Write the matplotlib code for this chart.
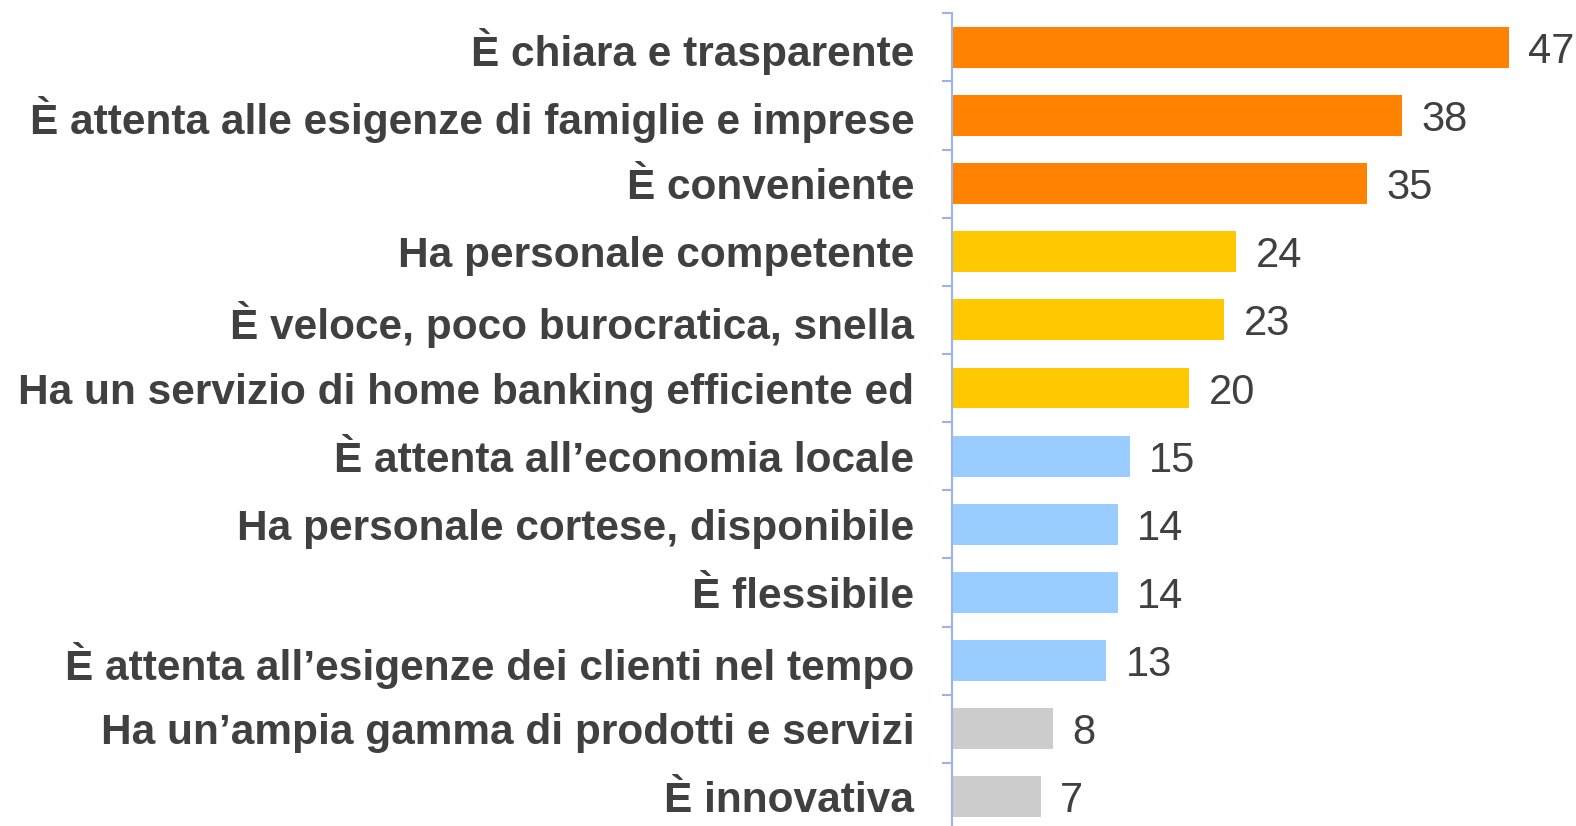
import matplotlib
matplotlib.use("Agg")
import matplotlib.pyplot as plt

# dati
categorie = [
    "È chiara e trasparente",
    "È attenta alle esigenze di famiglie e imprese",
    "È conveniente",
    "Ha personale competente",
    "È veloce, poco burocratica, snella",
    "Ha un servizio di home banking efficiente ed",
    "È attenta all’economia locale",
    "Ha personale cortese, disponibile",
    "È flessibile",
    "È attenta all’esigenze dei clienti nel tempo",
    "Ha un’ampia gamma di prodotti e servizi",
    "È innovativa",
]
valori = [47, 38, 35, 24, 23, 20, 15, 14, 14, 13, 8.5, 7.5]
etichette = ["47", "38", "35", "24", "23", "20", "15", "14", "14", "13", "8", "7"]
colori = ["#FF8300"] * 3 + ["#FFC800"] * 3 + ["#99CCFF"] * 4 + ["#CCCCCC"] * 2

plt.rcParams["font.family"] = ["Liberation Sans", "DejaVu Sans"]

fig = plt.figure(figsize=(15.76, 8.26), dpi=100, facecolor="white")
ax = fig.add_axes([0.604, -0.006, 0.376, 0.990])

y = list(range(len(categorie)))
ax.barh(y, valori, color=colori, height=0.6)
ax.set_ylim(len(categorie) - 0.5, -0.5)
ax.set_xlim(0, 50)

for yi, v, t in zip(y, valori, etichette):
    ax.annotate(t, (v, yi), xytext=(14, 0), textcoords="offset points",
                va="center_baseline", ha="left", fontsize=30, color="#404040")

ax.set_yticks(y)
ax.set_yticklabels(categorie, fontsize=30.5, fontweight="bold", color="#404040")
ax.set_yticks([i - 0.5 for i in range(len(categorie) + 1)], minor=True)
ax.tick_params(axis="y", which="major", length=0, pad=27)
ax.tick_params(axis="y", which="minor", length=7, width=1.5, color="#9DB4EA", direction="out")
ax.set_xticks([])

for s in ["top", "right", "bottom"]:
    ax.spines[s].set_visible(False)
ax.spines["left"].set_color("#9DB4EA")
ax.spines["left"].set_linewidth(1.5)

fig.savefig("out.png", dpi=100, facecolor="white")
